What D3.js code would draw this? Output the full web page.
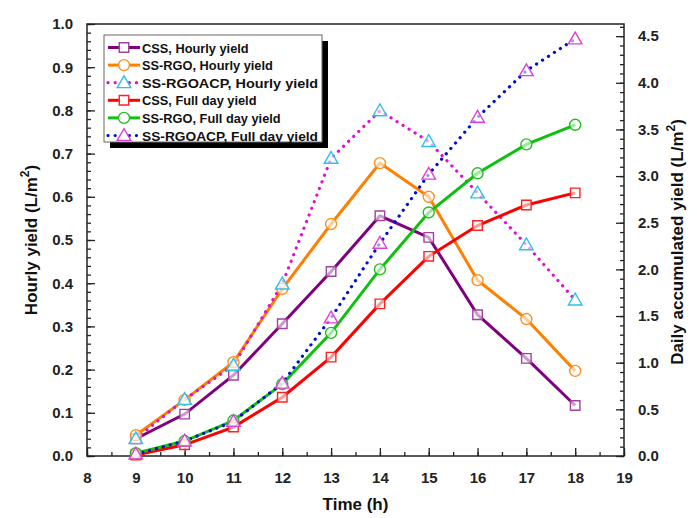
<!DOCTYPE html>
<html>
<head>
<meta charset="utf-8">
<script src="https://cdn.jsdelivr.net/npm/d3@7/dist/d3.min.js"></script>
<style>
  body { margin: 0; background: #fff; }
  text { font-family: "Liberation Sans", Arial, sans-serif; font-weight: bold; }
</style>
</head>
<body>
<div id="container"></div>
<script>
// time of day (h)
var hours = [9, 10, 11, 12, 13, 14, 15, 16, 17, 18];

// hourly yield, left axis (L/m2)
var cssHourly    = [0.04, 0.097, 0.187, 0.306, 0.427, 0.556, 0.506, 0.327, 0.226, 0.117];
var rgoHourly    = [0.048, 0.13, 0.217, 0.387, 0.537, 0.678, 0.600, 0.407, 0.317, 0.197];
var rgoacpHourly = [0.04, 0.131, 0.21, 0.398, 0.689, 0.799, 0.728, 0.609, 0.489, 0.361];

// full day yield, right axis (L/m2)
var cssDay    = [0.01, 0.12, 0.31, 0.63, 1.06, 1.63, 2.14, 2.47, 2.69, 2.82];
var rgoDay    = [0.03, 0.16, 0.38, 0.77, 1.32, 2.00, 2.61, 3.03, 3.34, 3.55];
var rgoacpDay = [0.02, 0.16, 0.37, 0.78, 1.48, 2.28, 3.02, 3.63, 4.13, 4.47];

var xTicks = [8, 9, 10, 11, 12, 13, 14, 15, 16, 17, 18, 19];
var leftTicks = [0, 0.1, 0.2, 0.3, 0.4, 0.5, 0.6, 0.7, 0.8, 0.9, 1.0];
var rightTicks = [0, 0.5, 1.0, 1.5, 2.0, 2.5, 3.0, 3.5, 4.0, 4.5];

var series = [
  {name: "CSS, Hourly yield",           values: cssHourly,    axis: "left",  line: "#800080", mark: "#a040a0", shape: "square",   dotted: false},
  {name: "SS-RGO, Hourly yield",        values: rgoHourly,    axis: "left",  line: "#ff8000", mark: "#ff9020", shape: "circle",   dotted: false},
  {name: "SS-RGOACP, Hourly yield",     values: rgoacpHourly, axis: "left",  line: "#e010d0", mark: "#30c0e8", shape: "triangle", dotted: true},
  {name: "CSS, Full day yield",         values: cssDay,       axis: "right", line: "#ff0000", mark: "#ff2020", shape: "square",   dotted: false},
  {name: "SS-RGO, Full day yield",      values: rgoDay,       axis: "right", line: "#10c010", mark: "#20c020", shape: "circle",   dotted: false},
  {name: "SS-RGOACP, Full day yield",   values: rgoacpDay,    axis: "right", line: "#0010c8", mark: "#e040d8", shape: "triangle", dotted: true}
];

var W = 697, H = 518;
var margin = {top: 24, right: 73, bottom: 62, left: 87};
var width = W - margin.left - margin.right;
var height = H - margin.top - margin.bottom;

var svg = d3.select("#container").append("svg")
  .attr("width", W)
  .attr("height", H);

var g = svg.append("g")
  .attr("transform", "translate(" + margin.left + "," + margin.top + ")");

var x = d3.scaleLinear().domain([8, 19]).range([0, width]);
var yL = d3.scaleLinear().domain([0, 1.0]).range([height, 0]);
var yR = d3.scaleLinear().domain([0, 4.63]).range([height, 0]);

// minor ticks
var xMinor = d3.range(8, 19.01, 0.5);
var lMinor = d3.range(0, 1.001, 0.02);
var rMinor = d3.range(0, 4.61, 0.1);

g.append("g").attr("class", "axis")
  .attr("transform", "translate(0," + height + ")")
  .call(d3.axisBottom(x).tickValues(xMinor).tickSize(-4).tickFormat(""));
g.append("g").attr("class", "axis")
  .attr("transform", "translate(0," + height + ")")
  .call(d3.axisBottom(x).tickValues(xTicks).tickSize(-8).tickPadding(16).tickFormat(d3.format("d")));

g.append("g").attr("class", "axis")
  .call(d3.axisLeft(yL).tickValues(lMinor).tickSize(-4).tickFormat(""));
g.append("g").attr("class", "axis")
  .call(d3.axisLeft(yL).tickValues(leftTicks).tickSize(-8).tickPadding(14).tickFormat(d3.format(".1f")));

g.append("g").attr("class", "axis")
  .attr("transform", "translate(" + width + ",0)")
  .call(d3.axisRight(yR).tickValues(rMinor).tickSize(-4).tickFormat(""));
g.append("g").attr("class", "axis")
  .attr("transform", "translate(" + width + ",0)")
  .call(d3.axisRight(yR).tickValues(rightTicks).tickSize(-8).tickPadding(14).tickFormat(d3.format(".1f")));

g.selectAll(".axis path").remove();
g.selectAll(".axis line").attr("stroke", "#222").attr("stroke-width", 1.3);
g.selectAll(".axis text").attr("font-size", 15).attr("fill", "#222");

// frame
g.append("rect")
  .attr("width", width).attr("height", height)
  .attr("fill", "none").attr("stroke", "#222").attr("stroke-width", 1.5);

// axis titles
svg.append("text")
  .attr("x", margin.left + width / 2).attr("y", 510)
  .attr("text-anchor", "middle").attr("font-size", 17).attr("fill", "#111")
  .text("Time (h)");

var lt = svg.append("text")
  .attr("transform", "translate(37," + (margin.top + height / 2) + ") rotate(-90)")
  .attr("text-anchor", "middle").attr("font-size", 17).attr("fill", "#111");
lt.append("tspan").text("Hourly yield (L/m");
lt.append("tspan").attr("dy", -8).attr("font-size", 12).text("2");
lt.append("tspan").attr("dy", 8).text(")");

var rt = svg.append("text")
  .attr("transform", "translate(683," + (margin.top + height / 2 + 2) + ") rotate(-90)")
  .attr("text-anchor", "middle").attr("font-size", 17).attr("fill", "#111");
rt.append("tspan").text("Daily accumulated yield (L/m");
rt.append("tspan").attr("dy", -8).attr("font-size", 12).text("2");
rt.append("tspan").attr("dy", 8).text(")");

function symbolOf(shape) {
  if (shape === "square") return d3.symbol().type(d3.symbolSquare).size(90);
  if (shape === "circle") return d3.symbol().type(d3.symbolCircle).size(95);
  return d3.symbol().type(d3.symbolTriangle).size(80);
}

function styleLine(sel, s) {
  sel.attr("fill", "none").attr("stroke", s.line);
  if (s.dotted) {
    sel.attr("stroke-width", 3.2).attr("stroke-linecap", "round").attr("stroke-dasharray", "0.1,7");
  } else {
    sel.attr("stroke-width", 3);
  }
}

// lines
series.forEach(function(s) {
  var ys = s.axis === "left" ? yL : yR;
  var line = d3.line()
    .x(function(d, i) { return x(hours[i]); })
    .y(function(d) { return ys(d); });
  g.append("path").datum(s.values).attr("d", line).call(styleLine, s);
});

// markers
series.forEach(function(s) {
  var ys = s.axis === "left" ? yL : yR;
  var sym = symbolOf(s.shape);
  g.append("g").selectAll("path")
    .data(s.values)
    .enter()
    .append("path")
    .attr("d", sym)
    .attr("transform", function(d, i) {
      return "translate(" + x(hours[i]) + "," + (ys(d) + (s.shape === "triangle" ? 1 : 0)) + ")";
    })
    .attr("fill", "#fff").attr("fill-opacity", 0.6)
    .attr("stroke", s.mark).attr("stroke-width", 1.4);
});

// legend
var lg = svg.append("g").attr("transform", "translate(104,35)");
lg.append("rect").attr("x", 6).attr("y", 6).attr("width", 218).attr("height", 107).attr("fill", "#000");
lg.append("rect").attr("x", 0).attr("y", 0).attr("width", 218).attr("height", 107)
  .attr("fill", "#fff").attr("stroke", "#666").attr("stroke-width", 1);

series.forEach(function(s, i) {
  var yy = 12.5 + i * 17.6;
  var row = lg.append("g").attr("transform", "translate(0," + yy + ")");
  row.append("path").attr("d", "M4,0L36,0").call(styleLine, s);
  row.append("path").attr("d", symbolOf(s.shape))
    .attr("transform", "translate(20," + (s.shape === "triangle" ? 1 : 0) + ")")
    .attr("fill", "#fff").attr("stroke", s.mark).attr("stroke-width", 1.4);
  row.append("text").attr("x", 38).attr("y", 5)
    .attr("font-size", 12.8).attr("fill", "#111")
    .attr("textLength", s.name.length > 22 ? 176 : null)
    .attr("lengthAdjust", "spacingAndGlyphs")
    .text(s.name);
});
</script>
</body>
</html>
